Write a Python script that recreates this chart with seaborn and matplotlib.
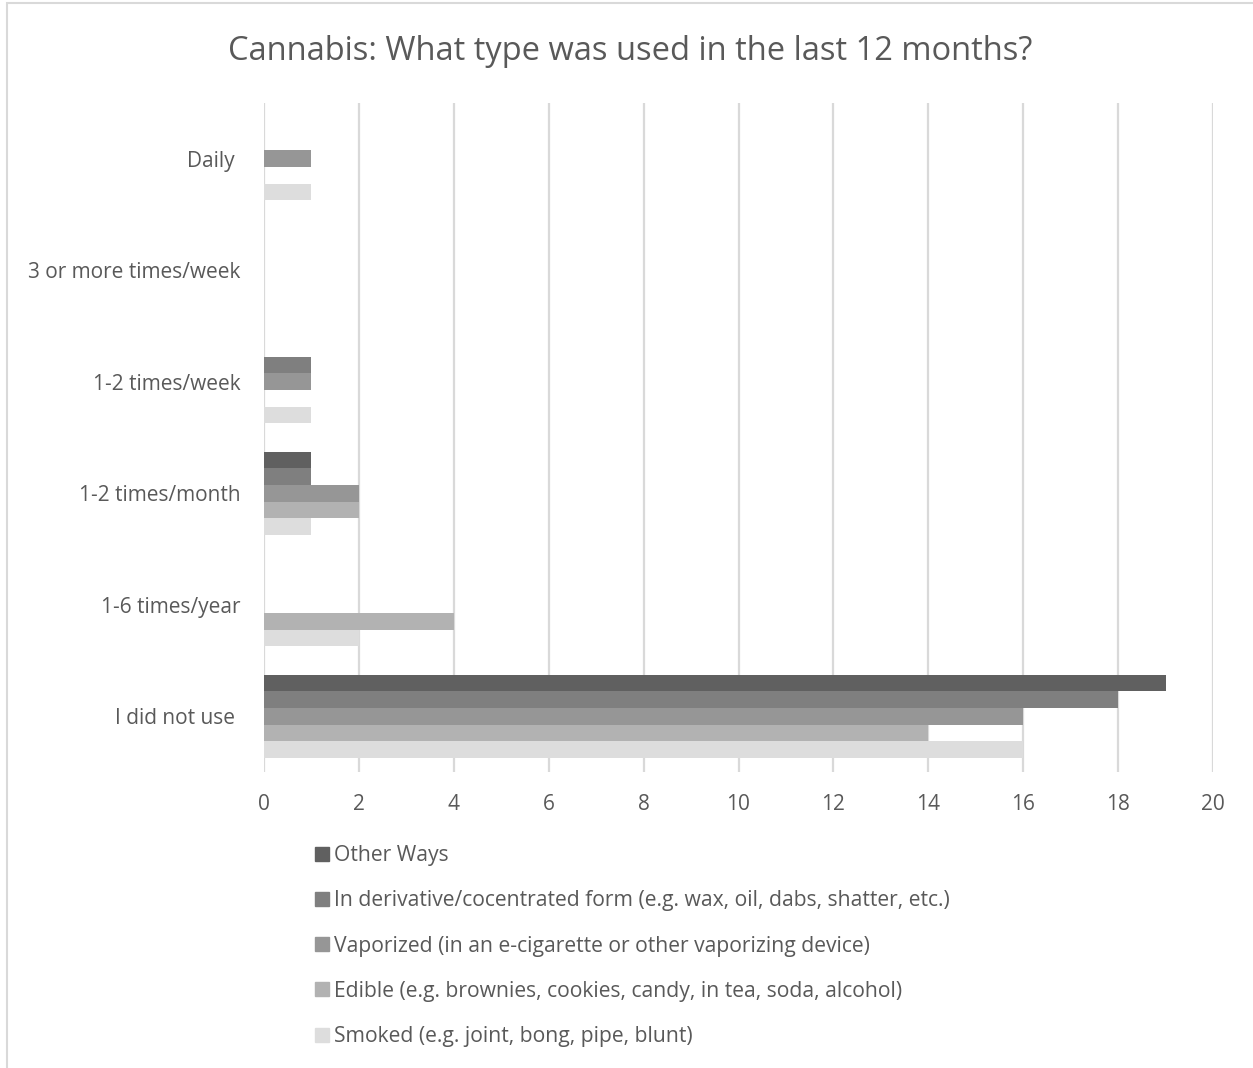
import pandas as pd
import seaborn as sns
import matplotlib.pyplot as plt
from matplotlib.patches import Rectangle

# Dados
categories = ['Daily ', '3 or more times/week', '1-2 times/week', '1-2 times/month',
              '1-6 times/year', 'I did not use ']
series = ['Other Ways',
          'In derivative/cocentrated form (e.g. wax, oil, dabs, shatter, etc.)',
          'Vaporized (in an e-cigarette or other vaporizing device)',
          'Edible (e.g. brownies, cookies, candy, in tea, soda, alcohol)',
          'Smoked (e.g. joint, bong, pipe, blunt)']
other_ways = [0, 0, 0, 1, 0, 19]
derivative = [0, 0, 1, 1, 0, 18]
vaporized = [1, 0, 1, 2, 0, 16]
edible = [0, 0, 0, 2, 4, 14]
smoked = [1, 0, 1, 1, 2, 16]
colors = ['#606060', '#7f7f7f', '#969696', '#b2b2b2', '#dddddd']
x_ticks = list(range(0, 21, 2))

# Montar tabela longa
values = [other_ways, derivative, vaporized, edible, smoked]
rows = []
for s, vals in zip(series, values):
    for c, v in zip(categories, vals):
        rows.append({'Category': c, 'Type': s, 'Count': v})
df = pd.DataFrame(rows)

sns.set_theme(style='white')
plt.rcParams['font.family'] = ['Open Sans', 'DejaVu Sans']

fig = plt.figure(figsize=(12.53, 10.68), dpi=100)
ax = fig.add_axes([264 / 1253, 1 - 772 / 1068, 949 / 1253, 669 / 1068])

sns.barplot(data=df, y='Category', x='Count', hue='Type', order=categories,
            hue_order=series, palette=colors, orient='h', width=0.74,
            linewidth=0, saturation=1, ax=ax, legend=False)

ax.set_xlim(0, 20)
ax.set_xticks(x_ticks)
ax.grid(axis='x', color='#d9d9d9', linewidth=1.6)
ax.set_axisbelow(True)
for sp in ax.spines.values():
    sp.set_visible(False)
ax.set_xlabel('')
ax.set_ylabel('')
ax.tick_params(axis='both', length=0, labelsize=15, labelcolor='#595959')
ax.tick_params(axis='y', pad=17)
ax.tick_params(axis='x', pad=16)

fig.suptitle('Cannabis: What type was used in the last 12 months?', x=630 / 1253,
             y=1 - 51 / 1068, va='center', fontsize=23.5, color='#595959')

# Legenda
handles = [Rectangle((0, 0), 1, 1, color=c) for c in colors]
fig.legend(handles, series, loc='upper left', bbox_to_anchor=(296 / 1253, 1 - 826 / 1068),
           frameon=False, fontsize=15.2, labelcolor='#595959', handlelength=0.65,
           handleheight=0.65, handletextpad=0.25, labelspacing=1.15)

# Borda do gráfico
fig.patches.append(Rectangle((7 / 1253, -0.1), 1.2, 1.1 - 3 / 1068, transform=fig.transFigure,
                             fill=False, edgecolor='#d9d9d9', linewidth=1.5))

fig.savefig('out.png', dpi=100)
